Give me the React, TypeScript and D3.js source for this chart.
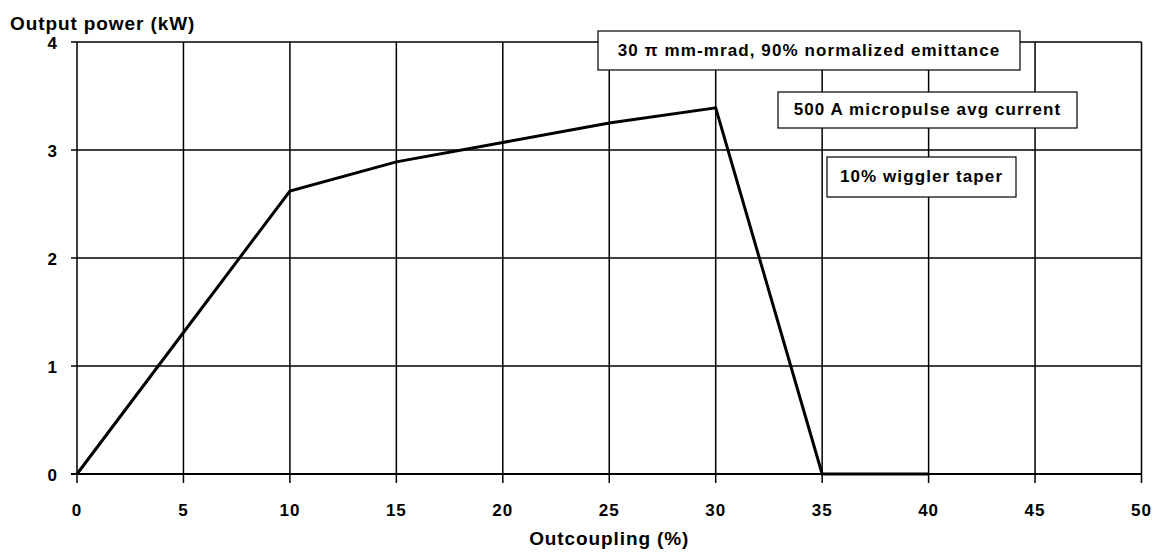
import * as d3 from 'd3';
import React, { useEffect, useRef } from 'react';

const outcoupling = [0, 5, 10, 15, 20, 25, 30, 35, 40];
const power = [0, 1.31, 2.62, 2.89, 3.07, 3.25, 3.39, 0, 0];
const xTicks = [0, 5, 10, 15, 20, 25, 30, 35, 40, 45, 50];
const yTicks = [0, 1, 2, 3, 4];
const notes = [
  { text: '30 \u03c0 mm-mrad, 90% normalized emittance', x: 598, y: 31, w: 422, h: 39 },
  { text: '500 A micropulse avg current', x: 778, y: 92, w: 299, h: 36 },
  { text: '10% wiggler taper', x: 827, y: 157, w: 189, h: 40 },
];

const W = 1157;
const H = 556;
const margin = { top: 42, right: 15, bottom: 82, left: 77 };
const font = 'Liberation Sans, Arial, sans-serif';

export default function App() {
  const ref = useRef<SVGSVGElement>(null);

  useEffect(() => {
    const svg = d3.select(ref.current);
    svg.selectAll('*').remove();

    const x = d3.scaleLinear().domain([0, 50]).range([margin.left, W - margin.right - 0.5]);
    const y = d3.scaleLinear().domain([0, 4]).range([H - margin.bottom, margin.top]);

    const g = svg.append('g').style('font-family', font).style('font-weight', 'bold');

    // grid
    g.selectAll('line.vgrid')
      .data(xTicks)
      .enter()
      .append('line')
      .attr('x1', (d) => x(d))
      .attr('x2', (d) => x(d))
      .attr('y1', y(4))
      .attr('y2', y(0) + 9)
      .attr('stroke', '#000')
      .attr('stroke-width', 1.5);

    g.selectAll('line.hgrid')
      .data(yTicks)
      .enter()
      .append('line')
      .attr('x1', x(0) - 6)
      .attr('x2', x(50))
      .attr('y1', (d) => y(d))
      .attr('y2', (d) => y(d))
      .attr('stroke', '#000')
      .attr('stroke-width', (d) => (d === 0 ? 2 : 1.5));

    // tick labels
    g.selectAll('text.xt')
      .data(xTicks)
      .enter()
      .append('text')
      .attr('x', (d) => x(d))
      .attr('y', y(0) + 42)
      .attr('text-anchor', 'middle')
      .style('font-size', '17px')
      .style('letter-spacing', '1px')
      .text((d) => d);

    g.selectAll('text.yt')
      .data(yTicks)
      .enter()
      .append('text')
      .attr('x', 58)
      .attr('y', (d) => y(d) + 7)
      .attr('text-anchor', 'end')
      .style('font-size', '17px')
      .style('letter-spacing', '1px')
      .text((d) => d);

    // data line
    const line = d3
      .line<number>()
      .x((d, i) => x(outcoupling[i]))
      .y((d) => y(d));
    g.append('path')
      .datum(power)
      .attr('d', line)
      .attr('fill', 'none')
      .attr('stroke', '#000')
      .attr('stroke-width', 3)
      .attr('stroke-linejoin', 'miter');

    // annotation boxes
    const box = g.selectAll('g.note').data(notes).enter().append('g');
    box
      .append('rect')
      .attr('x', (d) => d.x)
      .attr('y', (d) => d.y)
      .attr('width', (d) => d.w)
      .attr('height', (d) => d.h)
      .attr('fill', '#fff')
      .attr('stroke', '#000')
      .attr('stroke-width', 1.2);
    box
      .append('text')
      .attr('x', (d) => d.x + d.w / 2)
      .attr('y', (d) => d.y + d.h / 2 + 5)
      .attr('text-anchor', 'middle')
      .style('font-size', '17px')
      .style('letter-spacing', '1.1px')
      .text((d) => d.text);

    // axis titles
    g.append('text')
      .attr('x', 10)
      .attr('y', 30)
      .style('font-size', '19px')
      .style('letter-spacing', '0.9px')
      .text('Output power (kW)');
    g.append('text')
      .attr('x', (x(0) + x(50)) / 2)
      .attr('y', 545)
      .attr('text-anchor', 'middle')
      .style('font-size', '19px')
      .style('letter-spacing', '0.9px')
      .text('Outcoupling (%)');
  }, []);

  return (
    <svg
      ref={ref}
      width={W}
      height={H}
      style={{ position: 'absolute', left: 0, top: 0, background: '#fff' }}
    />
  );
}
